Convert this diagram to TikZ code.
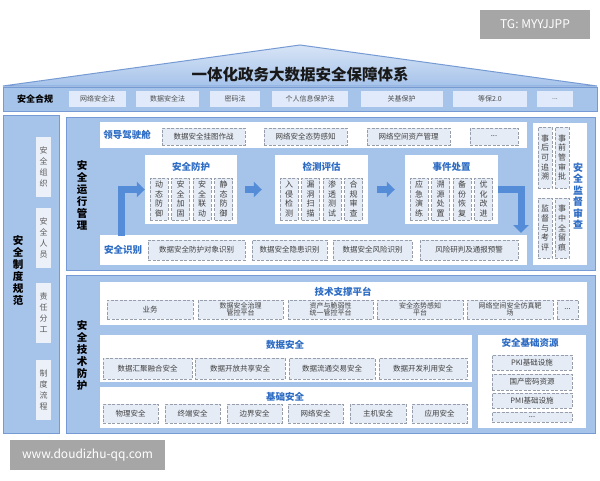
\documentclass[tikz,border=0pt]{standalone}
\usepackage{fontspec}
\setmainfont{Noto Sans CJK SC}
\usepackage{xcolor}
\usetikzlibrary{arrows.meta,positioning}
\definecolor{panelblue}{RGB}{166,195,234}
\definecolor{edgeblue}{RGB}{118,155,212}
\definecolor{itemfill}{RGB}{229,236,246}
\definecolor{itemline}{RGB}{150,158,172}
\definecolor{lawfill}{RGB}{224,234,250}
\definecolor{headblue}{RGB}{45,108,196}
\definecolor{arrowblue}{RGB}{84,140,215}
\definecolor{stripfill}{RGB}{236,241,249}
\definecolor{markgray}{RGB}{166,166,166}

\begin{document}
\begin{tikzpicture}[x=1pt,y=-1pt,>=Triangle]
		\tikzstyle{panel}=[fill=panelblue,draw=edgeblue,line width=1pt]
		\tikzstyle{row}=[fill=white]
		\tikzstyle{item}=[draw=itemline,dash pattern=on 3pt off 1.5pt,line width=0.6pt,fill=itemfill,inner sep=0pt,align=center,text=black!75,font=\fontsize{7.5}{8.5}\selectfont]
		\tikzstyle{vitem}=[item,font=\fontsize{8}{9.6}\selectfont,minimum width=18,minimum height=42]
		\tikzstyle{law}=[fill=lawfill,inner sep=0pt,text=black!70,font=\fontsize{7}{8}\selectfont,minimum height=16]
		\tikzstyle{strip}=[fill=stripfill,inner sep=0pt,align=center,text=black!65,font=\fontsize{8}{11}\selectfont,minimum width=15,minimum height=60]
		\tikzstyle{head}=[text=headblue,font=\fontsize{9.5}{11}\selectfont\bfseries]
		\tikzstyle{side}=[align=center,text=black,font=\fontsize{10.5}{12}\selectfont\bfseries]
		\tikzstyle{watermark}=[fill=markgray,text=white,inner sep=0pt,font=\fontsize{12}{14}\selectfont]
		\tikzstyle{blockarrow}=[arrowblue,line width=7pt,-{Triangle[width=15pt,length=8pt]}]
		\useasboundingbox (0,0) rectangle (600,480);
		\fill[white] (0,0) rectangle (600,480);

		% watermarks
		\node[watermark,minimum width=110,minimum height=29] (tg) at (535,24.5) {TG: MYYJJPP};
		\node[watermark,minimum width=155,minimum height=30] (www) at (87.5,455) {www.doudizhu-qq.com};

		% roof and compliance row
		\shade[top color=panelblue!45,bottom color=panelblue,draw=edgeblue,line width=1pt]
			(3,86) -- (300,45) -- (597,86) -- cycle;
		\node[font=\fontsize{15.5}{17}\selectfont\bfseries,text=black!90] (title) at (300,75) {一体化政务大数据安全保障体系};
		\draw[panel] (3,87) rectangle (597,111);
		\node[font=\fontsize{9}{10}\selectfont\bfseries] (comply) at (35,99) {安全合规};
		\node[law,minimum width=57] (law1) at (97.5,99)  {网络安全法};
		\node[law,minimum width=63] (law2) at (167.5,99) {数据安全法};
		\node[law,minimum width=50] (law3) at (235,99)   {密码法};
		\node[law,minimum width=76] (law4) at (310,99)   {个人信息保护法};
		\node[law,minimum width=82] (law5) at (401.5,99) {关基保护};
		\node[law,minimum width=74] (law6) at (490,99)   {等保2.0};
		\node[law,minimum width=36] (law7) at (555,99)   {...};

		% left column
		\draw[panel] (3,115) rectangle (59,433);
		\node[side] (rules) at (18,270) {安\\全\\制\\度\\规\\范};
		\node[strip] (org)  at (43.5,167) {安\\全\\组\\织};
		\node[strip] (staff) at (43.5,238) {安\\全\\人\\员};
		\node[strip] (duty) at (43.5,313) {责\\任\\分\\工};
		\node[strip] (flow) at (43.5,390) {制\\度\\流\\程};

		% operation management
		\draw[panel] (66,117) rectangle (595,270);
		\node[side] (ops) at (82,195) {安\\全\\运\\行\\管\\理};
		\fill[row] (100,122) rectangle (527,148);
		\node[head] (cockpit) at (127,135) {领导驾驶舱};
		\node[item,minimum width=83,minimum height=17] (lead1) at (203.5,136.5) {数据安全挂图作战};
		\node[item,minimum width=83,minimum height=17] (lead2) at (305.5,136.5) {网络安全态势感知};
		\node[item,minimum width=83,minimum height=17] (lead3) at (408.5,136.5) {网络空间资产管理};
		\node[item,minimum width=48,minimum height=17] (lead4) at (494,136.5)   {...};

		\node[row,minimum width=92,minimum height=69] (guard)  at (191,189.5) {};
		\node[row,minimum width=93,minimum height=69] (detect) at (321.5,189.5) {};
		\node[row,minimum width=93,minimum height=69] (handle) at (451.5,189.5) {};
		\node[head] (guardt)  at (191,167)   {安全防护};
		\node[head] (detectt) at (321.5,167) {检测评估};
		\node[head] (handlet) at (451.5,167) {事件处置};
		\node[vitem] (g1) at (159,199)   {动\\态\\防\\御};
		\node[vitem] (g2) at (180.5,199) {安\\全\\加\\固};
		\node[vitem] (g3) at (202,199)   {安\\全\\联\\动};
		\node[vitem] (g4) at (223.5,199) {静\\态\\防\\御};
		\node[vitem] (d1) at (289,199)   {入\\侵\\检\\测};
		\node[vitem] (d2) at (310.5,199) {漏\\洞\\扫\\描};
		\node[vitem] (d3) at (332,199)   {渗\\透\\测\\试};
		\node[vitem] (d4) at (353.5,199) {合\\规\\审\\查};
		\node[vitem] (h1) at (419,199)   {应\\急\\演\\练};
		\node[vitem] (h2) at (440.5,199) {溯\\源\\处\\置};
		\node[vitem] (h3) at (462,199)   {备\\份\\恢\\复};
		\node[vitem] (h4) at (483.5,199) {优\\化\\改\\进};

		\fill[row] (100,235) rectangle (527,265);
		\node[head] (ident) at (123,250) {安全识别};
		\node[item,minimum width=97,minimum height=20] (id1) at (196.5,250) {数据安全防护对象识别};
		\node[item,minimum width=75,minimum height=20] (id2) at (289.5,250) {数据安全隐患识别};
		\node[item,minimum width=79,minimum height=20] (id3) at (372.5,250) {数据安全风险识别};
		\node[item,minimum width=98,minimum height=20] (id4) at (469,250)   {风险研判及通报预警};

		\coordinate (rise) at (121,236);
		\coordinate (drop) at (521,233);
		\draw[blockarrow] (rise) |- (guard.west);
		\draw[blockarrow,shorten <=8pt,shorten >=13pt] (guard) -- (detect);
		\draw[blockarrow,shorten <=9pt,shorten >=10pt] (detect) -- (handle);
		\draw[blockarrow] (handle.east) -| (drop);

		\fill[row] (533,123) rectangle (587,265);
		\node[item,minimum width=14,minimum height=61,font=\fontsize{8}{9.6}\selectfont] (sup1) at (545,157.5) {事\\后\\可\\追\\溯};
		\node[item,minimum width=14,minimum height=61,font=\fontsize{8}{9.6}\selectfont] (sup2) at (562,157.5) {事\\前\\管\\审\\批};
		\node[item,minimum width=14,minimum height=60,font=\fontsize{8}{9.6}\selectfont] (sup3) at (545,228)   {监\\督\\与\\考\\评};
		\node[item,minimum width=14,minimum height=60,font=\fontsize{8}{9.6}\selectfont] (sup4) at (562,228)   {事\\中\\全\\留\\痕};
		\node[side,text=headblue,font=\fontsize{10}{11.5}\selectfont\bfseries] (audit) at (578,196) {安\\全\\监\\督\\审\\查};

		% technical protection
		\draw[panel] (66,275) rectangle (595,433);
		\node[side] (tech) at (82,355) {安\\全\\技\\术\\防\\护};
		\fill[row] (100,282) rectangle (587,325);
		\node[head] (support) at (343,292) {技术支撑平台};
		\node[item,minimum width=86,minimum height=19] (t1) at (150,309.5)   {业务};
		\node[item,minimum width=85,minimum height=19,font=\fontsize{7}{7.5}\selectfont] (t2) at (240.5,309.5) {数据安全治理\\管控平台};
		\node[item,minimum width=85,minimum height=19,font=\fontsize{7}{7.5}\selectfont] (t3) at (330.5,309.5) {资产与脆弱性\\统一管控平台};
		\node[item,minimum width=86,minimum height=19,font=\fontsize{7}{7.5}\selectfont] (t4) at (420,309.5)   {安全态势感知\\平台};
		\node[item,minimum width=86,minimum height=19,font=\fontsize{7}{7.5}\selectfont] (t5) at (510,309.5)   {网络空间安全仿真靶\\场};
		\node[item,minimum width=21,minimum height=19] (t6) at (567.5,309.5) {...};

		\fill[row] (100,335) rectangle (472,382);
		\node[head] (datasec) at (285,345) {数据安全};
		\node[item,minimum width=89,minimum height=21] (ds1) at (147.5,368.5) {数据汇聚融合安全};
		\node[item,minimum width=90,minimum height=21] (ds2) at (240,368.5)   {数据开放共享安全};
		\node[item,minimum width=86,minimum height=21] (ds3) at (332,368.5)   {数据流通交易安全};
		\node[item,minimum width=88,minimum height=21] (ds4) at (423,368.5)   {数据开发利用安全};

		\fill[row] (100,387) rectangle (472,428);
		\node[head] (basesec) at (285,397) {基础安全};
		\node[item,minimum width=55,minimum height=19] (bs1) at (130.5,413.5) {物理安全};
		\node[item,minimum width=55,minimum height=19] (bs2) at (192.5,413.5) {终端安全};
		\node[item,minimum width=55,minimum height=19] (bs3) at (254.5,413.5) {边界安全};
		\node[item,minimum width=55,minimum height=19] (bs4) at (315.5,413.5) {网络安全};
		\node[item,minimum width=56,minimum height=19] (bs5) at (378,413.5)   {主机安全};
		\node[item,minimum width=55,minimum height=19] (bs6) at (439.5,413.5) {应用安全};

		\fill[row] (478,335) rectangle (586,428);
		\node[head] (resource) at (530,343) {安全基础资源};
		\node[item,minimum width=80,minimum height=15] (rs1) at (532,362.5) {PKI基础设施};
		\node[item,minimum width=80,minimum height=16] (rs2) at (532,382)   {国产密码资源};
		\node[item,minimum width=80,minimum height=15] (rs3) at (532,400.5) {PMI基础设施};
		\node[item,minimum width=80,minimum height=10] (rs4) at (532,417)   {...};
	\end{tikzpicture}
\end{document}
